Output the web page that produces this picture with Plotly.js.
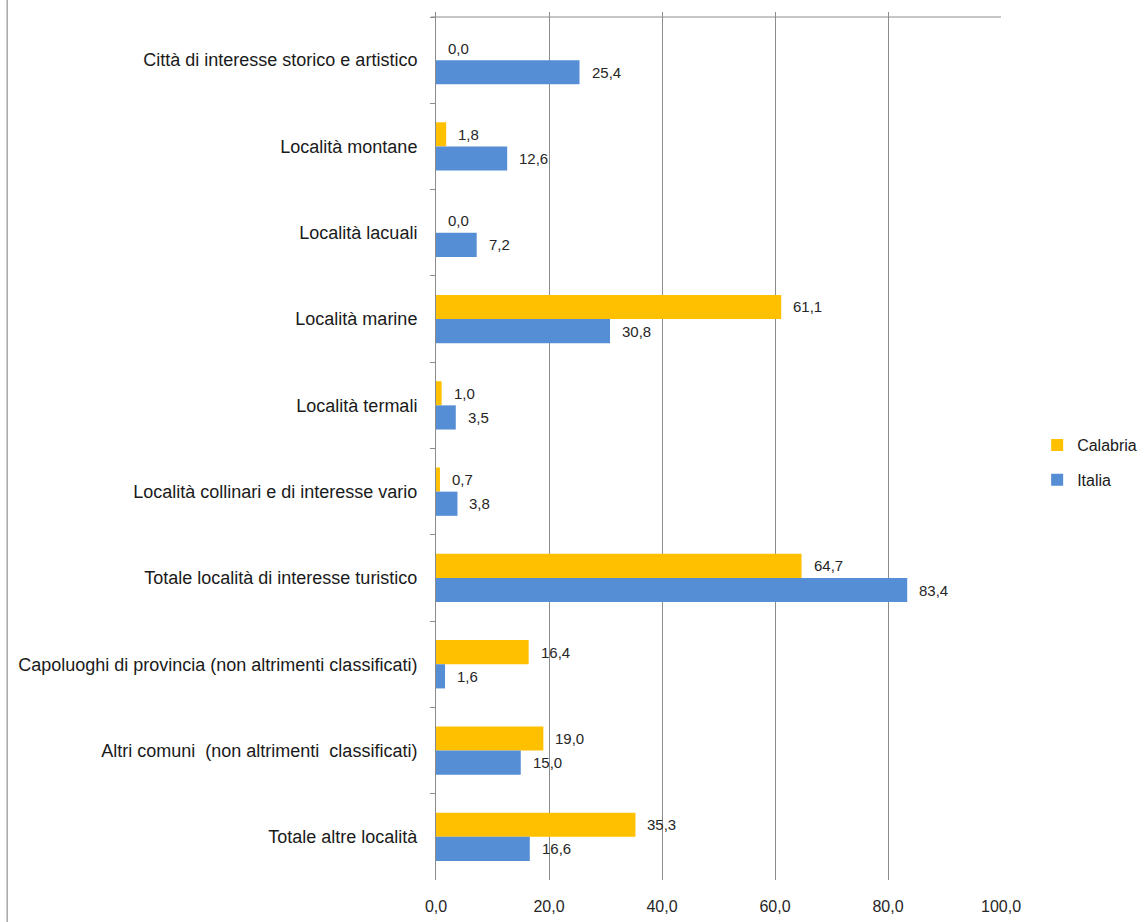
<!DOCTYPE html>
<html>
<head>
<meta charset="utf-8">
<script src="https://cdn.plot.ly/plotly-3.0.1.min.js"></script>
<style>
  html, body { margin: 0; padding: 0; background: #fff; }
  #chart { width: 1145px; height: 922px; }
</style>
</head>
<body>
<div id="chart"></div>
<script>
const categories = [
  "Città di interesse storico e artistico",
  "Località montane",
  "Località lacuali",
  "Località marine",
  "Località termali",
  "Località collinari e di interesse vario",
  "Totale località di interesse turistico",
  "Capoluoghi di provincia (non altrimenti classificati)",
  "Altri comuni  (non altrimenti  classificati)",
  "Totale altre località"
];
const calabria = [0.0, 1.8, 0.0, 61.1, 1.0, 0.7, 64.7, 16.4, 19.0, 35.3];
const italia   = [25.4, 12.6, 7.2, 30.8, 3.5, 3.8, 83.4, 1.6, 15.0, 16.6];
const xTicks = [0, 20, 40, 60, 80, 100];

const FONT = "Liberation Sans, Arial, sans-serif";
const fmt = v => v.toFixed(1).replace('.', ',');

const traces = [
  { type: 'bar', orientation: 'h', name: 'Calabria', x: calabria, y: categories,
    marker: { color: '#FFC000' }, legend: 'legend', hoverinfo: 'x+y' },
  { type: 'bar', orientation: 'h', name: 'Italia', x: italia, y: categories,
    marker: { color: '#558ED5' }, legend: 'legend2', hoverinfo: 'x+y' }
];

const annotations = [];
categories.forEach((c, i) => {
  annotations.push({ x: calabria[i], y: i - 0.14, xref: 'x', yref: 'y', text: fmt(calabria[i]),
    showarrow: false, xanchor: 'left', yanchor: 'middle', xshift: 10,
    font: { family: FONT, size: 15, color: '#262626' } });
  annotations.push({ x: italia[i], y: i + 0.14, xref: 'x', yref: 'y', text: fmt(italia[i]),
    showarrow: false, xanchor: 'left', yanchor: 'middle', xshift: 10,
    font: { family: FONT, size: 15, color: '#262626' } });
});

const layout = {
  width: 1145, height: 922,
  margin: { l: 436, r: 144, t: 12, b: 42, pad: 0, autoexpand: false },
  paper_bgcolor: '#fff', plot_bgcolor: '#fff',
  separators: ',.',
  barmode: 'group', bargap: 0.44, bargroupgap: 0,
  font: { family: FONT, size: 16, color: '#262626' },
  xaxis: {
    range: [0, 100], tickvals: xTicks, tickformat: '.1f',
    showgrid: true, gridcolor: '#8c8c8c', gridwidth: 1,
    zeroline: false, showline: false, ticks: '',
    ticklabelstandoff: 15,
    tickfont: { family: FONT, size: 16, color: '#262626' },
    fixedrange: true
  },
  yaxis: {
    type: 'category', range: [9.5, -0.558],
    showline: true, linecolor: '#8c8c8c', linewidth: 1,
    ticks: 'outside', tickson: 'boundaries', ticklen: 5, tickcolor: '#8c8c8c',
    showgrid: false, zeroline: false,
    ticklabelstandoff: 14,
    tickfont: { family: FONT, size: 18, color: '#1a1a1a' },
    fixedrange: true
  },
  showlegend: true,
  legend: { x: 1.064, y: 0.501, xanchor: 'left', yanchor: 'middle', bgcolor: 'rgba(0,0,0,0)',
    itemwidth: 30, font: { family: FONT, size: 16, color: '#1a1a1a' } },
  legend2: { x: 1.064, y: 0.461, xanchor: 'left', yanchor: 'middle', bgcolor: 'rgba(0,0,0,0)',
    itemwidth: 30, font: { family: FONT, size: 16, color: '#1a1a1a' } },
  annotations: annotations,
  shapes: [
    { type: 'line', xref: 'paper', yref: 'y', x0: -0.0088, x1: 1, y0: -0.5, y1: -0.5,
      line: { color: '#8c8c8c', width: 1 } },
    { type: 'line', xref: 'paper', yref: 'paper', x0: -0.759, x1: -0.759, y0: -0.06, y1: 1.02,
      line: { color: '#a6a6a6', width: 1.5 } }
  ]
};

Plotly.newPlot('chart', traces, layout, { displayModeBar: false, staticPlot: true });
</script>
</body>
</html>
